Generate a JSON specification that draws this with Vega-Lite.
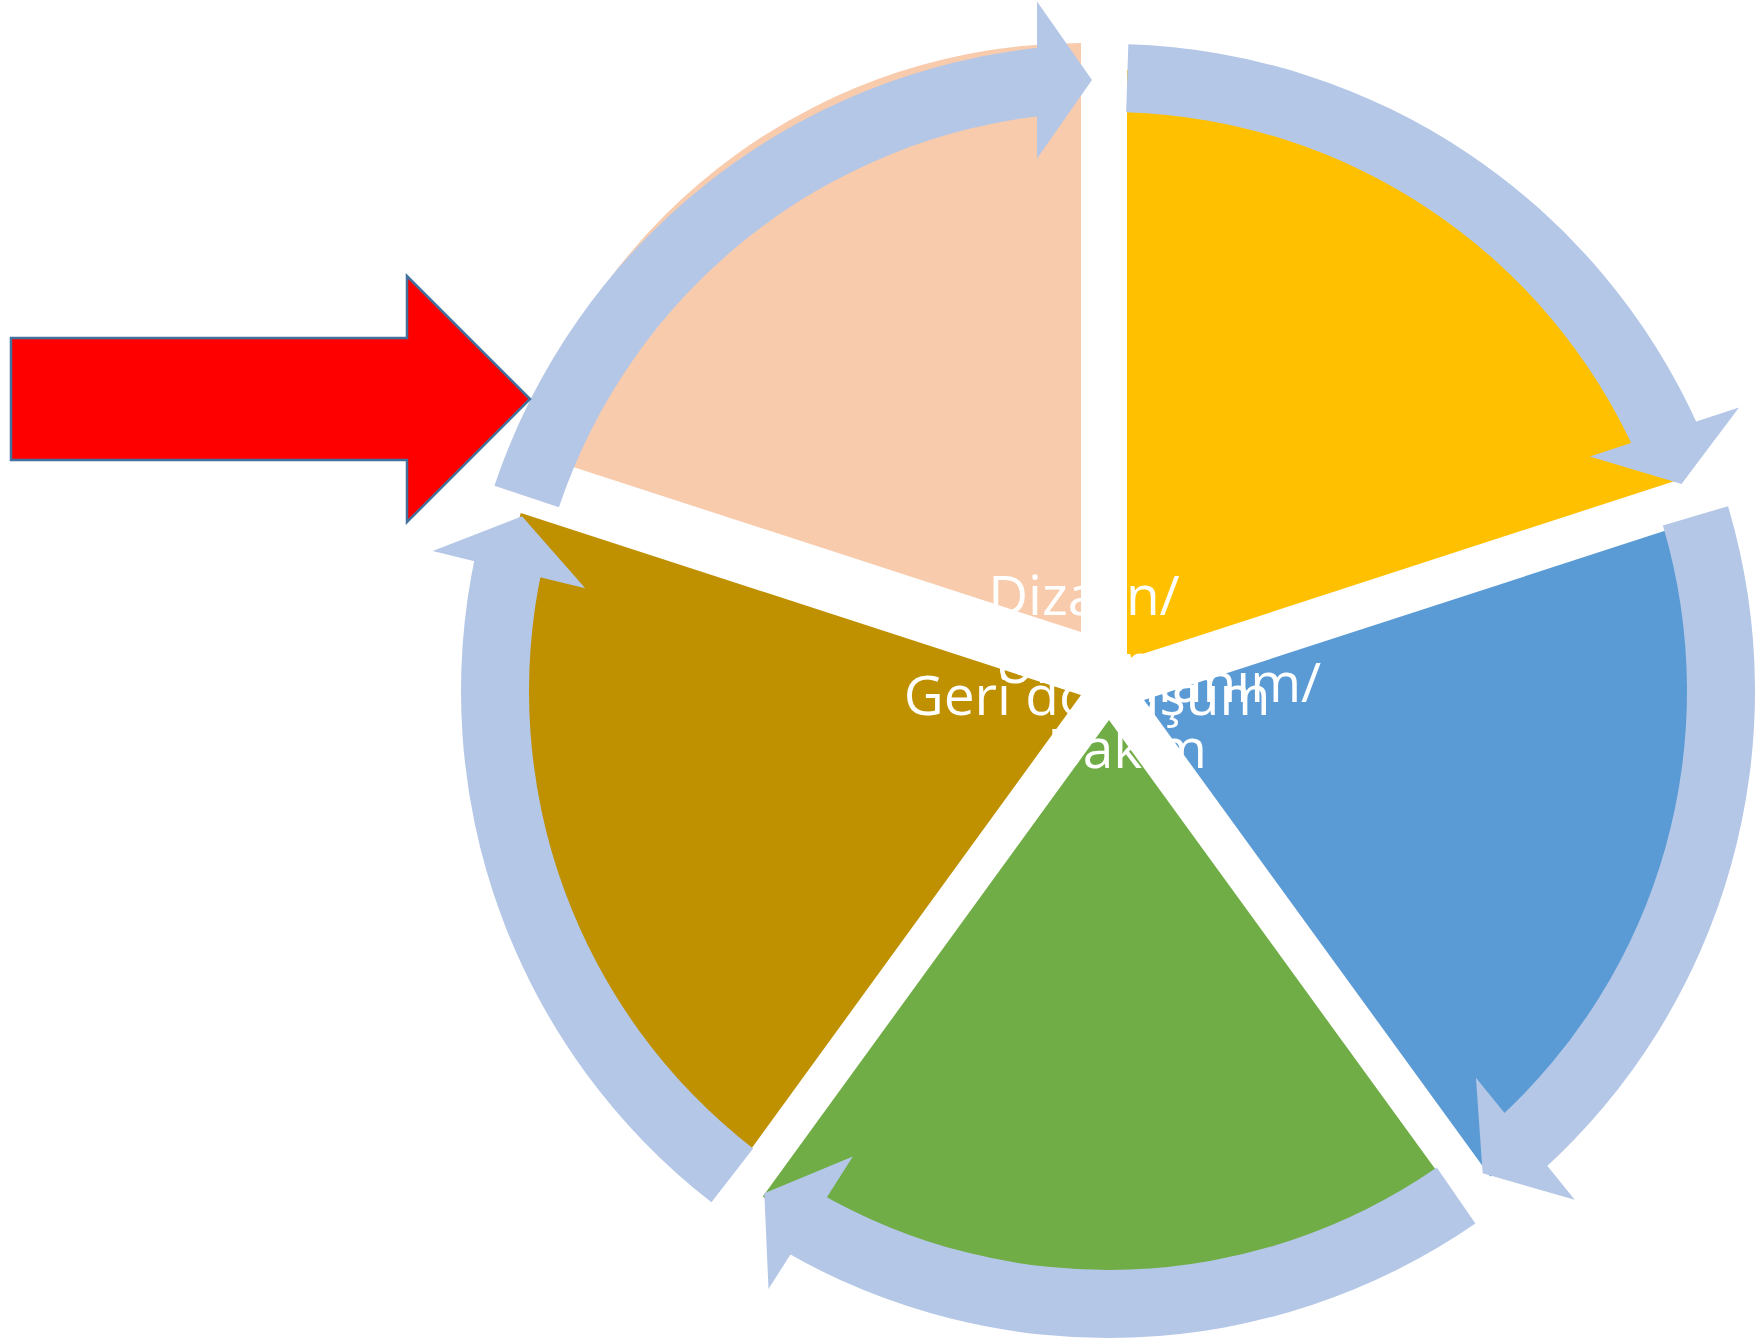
{
  "$schema": "https://vega.github.io/schema/vega-lite/v6.json",
  "width": 1759,
  "height": 1340,
  "padding": 0,
  "autosize": {"type": "fit", "contains": "padding"},
  "background": "white",
  "config": {"view": {"stroke": null}},
  "datasets": {
    "wedges": [
      {"stage": "Dizayn/Üretim", "cx": 1081, "cy": 632, "a0": 288, "a1": 360, "r0": 0, "r1": 589},
      {"stage": "Dağıtım", "cx": 1127, "cy": 659, "a0": 0, "a1": 72, "r0": 0, "r1": 589},
      {"stage": "Kullanım", "cx": 1144, "cy": 700, "a0": 72, "a1": 144, "r0": 0, "r1": 589},
      {"stage": "Toplama", "cx": 1109, "cy": 720, "a0": 144, "a1": 216, "r0": 0, "r1": 589},
      {"stage": "Geri dönüşüm", "cx": 1081, "cy": 695, "a0": 216, "a1": 288, "r0": 0, "r1": 589}
    ],
    "ring": [
      {"seg": 1, "cx": 1108, "cy": 691, "a0": 288.5, "a1": 354.5, "r0": 579, "r1": 647},
      {"seg": 2, "cx": 1108, "cy": 691, "a0": 1.8, "a1": 66, "r0": 579, "r1": 647},
      {"seg": 3, "cx": 1108, "cy": 691, "a0": 73.4, "a1": 138, "r0": 579, "r1": 647},
      {"seg": 4, "cx": 1108, "cy": 691, "a0": 145.4, "a1": 210.3, "r0": 579, "r1": 647},
      {"seg": 5, "cx": 1108, "cy": 691, "a0": 217.8, "a1": 282.2, "r0": 579, "r1": 647}
    ],
    "heads": [
      {"seg": 1, "x": 1064.5, "y": 80, "dir": 0},
      {"seg": 2, "x": 1673, "y": 458, "dir": 71.8},
      {"seg": 3, "x": 1504, "y": 1156, "dir": 141},
      {"seg": 4, "x": 787.5, "y": 1208, "dir": 212.5},
      {"seg": 5, "x": 515.5, "y": 543, "dir": 283.7}
    ],
    "input": [
      {"name": "Hammadde", "x": 270.5, "y": 399}
    ],
    "labels": [
      {"t": "Dizayn/", "x": 1084, "y": 615},
      {"t": "Üretim", "x": 1084, "y": 683},
      {"t": "Geri dönüşüm", "x": 1087, "y": 715},
      {"t": "Kullanım/", "x": 1199, "y": 702},
      {"t": "Bakım", "x": 1127, "y": 768}
    ]
  },
  "layer": [
    {
      "data": {"name": "wedges"},
      "mark": {"type": "arc", "strokeWidth": 0},
      "encoding": {
        "x": {"field": "cx", "type": "quantitative", "scale": {"domain": [0, 1759], "nice": false, "zero": false}, "axis": null},
        "y": {"field": "cy", "type": "quantitative", "scale": {"domain": [0, 1340], "nice": false, "zero": false, "reverse": true}, "axis": null},
        "theta": {"field": "a0", "type": "quantitative", "stack": null, "scale": {"domain": [0, 360], "range": [0, 6.283185307179586], "nice": false}},
        "theta2": {"field": "a1"},
        "radius": {"field": "r1", "type": "quantitative", "scale": {"type": "linear", "domain": [0, 1000], "range": [0, 1000], "zero": true, "nice": false}},
        "radius2": {"field": "r0"},
        "color": {
          "field": "stage", "type": "nominal", "legend": null,
          "scale": {
            "domain": ["Dizayn/Üretim", "Dağıtım", "Kullanım", "Toplama", "Geri dönüşüm"],
            "range": ["#F8CBAD", "#FFC000", "#5B9BD5", "#70AD47", "#BF9000"]
          }
        }
      }
    },
    {
      "data": {"name": "ring"},
      "mark": {"type": "arc", "strokeWidth": 0, "color": "#B4C7E7"},
      "encoding": {
        "x": {"field": "cx", "type": "quantitative", "scale": {"domain": [0, 1759], "nice": false, "zero": false}, "axis": null},
        "y": {"field": "cy", "type": "quantitative", "scale": {"domain": [0, 1340], "nice": false, "zero": false, "reverse": true}, "axis": null},
        "theta": {"field": "a0", "type": "quantitative", "stack": null, "scale": {"domain": [0, 360], "range": [0, 6.283185307179586], "nice": false}},
        "theta2": {"field": "a1"},
        "radius": {"field": "r1", "type": "quantitative", "scale": {"type": "linear", "domain": [0, 1000], "range": [0, 1000], "zero": true, "nice": false}},
        "radius2": {"field": "r0"}
      }
    },
    {
      "data": {"name": "heads"},
      "mark": {
        "type": "point", "filled": true, "opacity": 1, "color": "#B4C7E7", "strokeWidth": 0,
        "shape": "M -0.35 -1 L 0.35 0 L -0.35 1 Z", "size": 24649
      },
      "encoding": {
        "x": {"field": "x", "type": "quantitative", "scale": {"domain": [0, 1759], "nice": false, "zero": false}, "axis": null},
        "y": {"field": "y", "type": "quantitative", "scale": {"domain": [0, 1340], "nice": false, "zero": false, "reverse": true}, "axis": null},
        "angle": {"field": "dir", "type": "quantitative", "scale": {"domain": [0, 360], "range": [0, 360]}}
      }
    },
    {
      "data": {"name": "input"},
      "mark": {
        "type": "point", "filled": true, "opacity": 1, "fill": "#FF0000", "stroke": "#41719C", "strokeWidth": 2.5, "strokeOpacity": 1,
        "shape": "M -1 -0.235 L 0.526 -0.235 L 0.526 -0.474 L 1 0 L 0.526 0.474 L 0.526 0.235 L -1 0.235 Z", "size": 269361
      },
      "encoding": {
        "x": {"field": "x", "type": "quantitative", "scale": {"domain": [0, 1759], "nice": false, "zero": false}, "axis": null},
        "y": {"field": "y", "type": "quantitative", "scale": {"domain": [0, 1340], "nice": false, "zero": false, "reverse": true}, "axis": null}
      }
    },
    {
      "data": {"name": "labels"},
      "mark": {"type": "text", "font": "Open Sans", "fontSize": 55, "color": "#FFFFFF", "align": "center", "baseline": "alphabetic"},
      "encoding": {
        "x": {"field": "x", "type": "quantitative", "scale": {"domain": [0, 1759], "nice": false, "zero": false}, "axis": null},
        "y": {"field": "y", "type": "quantitative", "scale": {"domain": [0, 1340], "nice": false, "zero": false, "reverse": true}, "axis": null},
        "text": {"field": "t"}
      }
    }
  ]
}
